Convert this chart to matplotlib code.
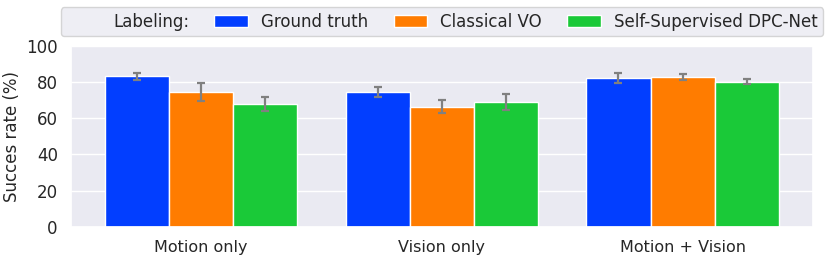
"""Success rate per input modality, grouped by labeling method."""

import matplotlib

matplotlib.use("Agg")
import matplotlib.pyplot as plt
import numpy as np
import seaborn as sns
from matplotlib.patches import Rectangle

CATEGORIES = ["Motion only", "Vision only", "Motion + Vision"]
SERIES = ["Ground truth", "Classical VO", "Self-Supervised DPC-Net"]
MEANS = [
    [83.0, 74.5, 82.0],
    [74.5, 66.3, 82.8],
    [67.8, 68.9, 80.2],
]
ERRORS = [
    [2.0, 2.8, 2.8],
    [5.0, 3.7, 1.8],
    [3.7, 4.4, 1.4],
]
COLORS = ["#023eff", "#ff7c00", "#1ac938"]

sns.set_theme(style="darkgrid")
plt.rcParams["font.family"] = ["DejaVu Sans"]

fig = plt.figure(figsize=(8.31, 2.62), dpi=100)
ax = fig.add_axes([0.0854, 0.1347, 0.8926, 0.691])

x = np.arange(len(CATEGORIES))
width = 0.8 / len(SERIES)
handles = []
for i, (name, means, errs, color) in enumerate(zip(SERIES, MEANS, ERRORS, COLORS)):
    pos = x + (i - 1) * width
    bars = ax.bar(pos, means, width, color=color, edgecolor="white", linewidth=1.0, label=name)
    ax.errorbar(pos, means, yerr=errs, fmt="none", ecolor="#808080", elinewidth=1.6,
                capsize=2.6, capthick=1.6)
    handles.append(bars)

ax.set_xlim(-0.54, 2.54)
ax.set_ylim(0, 100)
ax.set_xticks(x)
ax.set_xticklabels(CATEGORIES, fontsize=11.5)
ax.tick_params(axis="y", labelsize=12)
ax.grid(False, axis="x")
ax.set_ylabel("Succes rate (%)", fontsize=12)

blank = Rectangle((0, 0), 1, 1, fill=False, edgecolor="none", visible=False)
leg = fig.legend(
    [blank] + handles,
    ["Labeling:"] + SERIES,
    loc="lower left",
    bbox_to_anchor=(0.0734, 0.8626, 0.917, 0.107),
    mode="expand",
    ncol=4,
    fontsize=12,
    frameon=True,
    borderaxespad=0.0,
    borderpad=0.32,
    handlelength=2.0,
)
leg.get_frame().set_facecolor("#EAEAF2")
leg.get_frame().set_edgecolor("#CCCCCC")

fig.savefig("out.png", dpi=100)
